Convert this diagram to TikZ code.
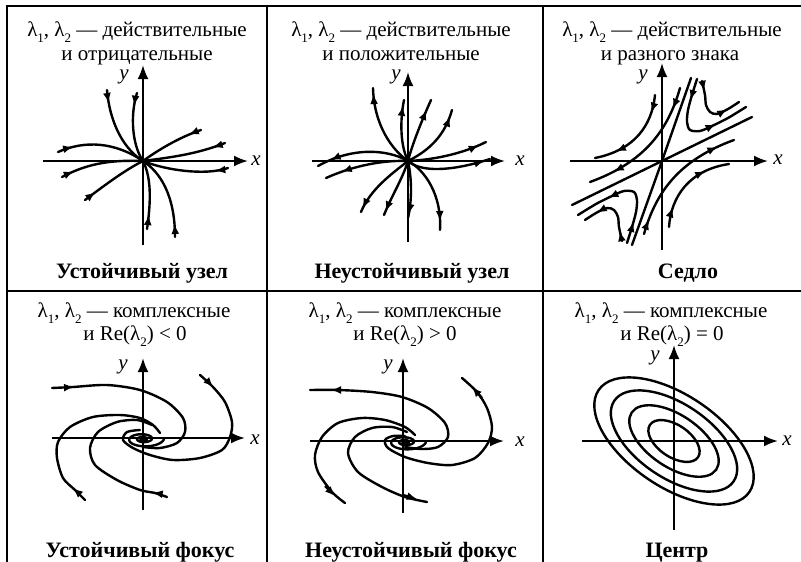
\documentclass[tikz,border=0pt]{standalone}
\usepackage{fontspec}
\setmainfont{Liberation Serif}
\usetikzlibrary{arrows.meta,decorations.markings}
\newcommand{\lam}[1]{λ\raisebox{-0.3em}{\fontsize{13}{13}\selectfont #1}}
\begin{document}
\begin{tikzpicture}[x=1pt,y=-1pt,
  >={Latex[length=10pt,width=8pt]},
  frame/.style={line width=1.8pt},
  axis/.style={line width=2.2pt,-{Latex[length=14pt,width=11pt]}},
  traj/.style={line width=2.4pt,line cap=round},
  tip/.style={line width=2.4pt,-{Latex[length=10pt,width=8pt]}},
  mk/.style={postaction={decorate},decoration={markings,mark=at position #1 with {\arrow{>}}}},
  mkk/.style 2 args={postaction={decorate},decoration={markings,mark=at position #1 with {\arrow{>}},mark=at position #2 with {\arrow{>}}}},
  ttl/.style={font=\fontsize{21}{24}\selectfont,anchor=base,inner sep=0pt},
  nm/.style={font=\fontsize{22}{24}\selectfont\bfseries,anchor=base,inner sep=0pt},
  axl/.style={font=\fontsize{21}{24}\selectfont\itshape,inner sep=0pt},
]
\useasboundingbox (0,0) rectangle (801,562);
\fill[white] (0,0) rectangle (801,562);

% ---------- frame ----------
\draw[frame] (801,6) -- (7,6) -- (7,562);
\draw[frame] (7,291) -- (801,291);
\draw[frame] (267,6) -- (267,562);
\draw[frame] (543,6) -- (543,562);

% ---------- titles ----------
\node[ttl] (t1a) at (137,36) {\lam1, \lam2 — действительные};
\node[ttl] (t1b) at (137,60) {и отрицательные};
\node[ttl] (t2a) at (401,36) {\lam1, \lam2 — действительные};
\node[ttl] (t2b) at (401,60) {и положительные};
\node[ttl] (t3a) at (672,36) {\lam1, \lam2 — действительные};
\node[ttl] (t3b) at (670,60) {и разного знака};
\node[ttl] (t4a) at (134,317) {\lam1, \lam2 — комплексные};
\node[ttl] (t4b) at (135,340) {и Re(\lam2) < 0};
\node[ttl] (t5a) at (405,317) {\lam1, \lam2 — комплексные};
\node[ttl] (t5b) at (405,340) {и Re(\lam2) > 0};
\node[ttl] (t6a) at (671,317) {\lam1, \lam2 — комплексные};
\node[ttl] (t6b) at (672,340) {и Re(\lam2) = 0};

\node[nm] (n1) at (142,278) {Устойчивый узел};
\node[nm] (n2) at (412,278) {Неустойчивый узел};
\node[nm] (n3) at (688,278) {Седло};
\node[nm] (n4) at (140,557) {Устойчивый фокус};
\node[nm] (n5) at (411,557) {Неустойчивый фокус};
\node[nm] (n6) at (677,557) {Центр};

% ---------- axes ----------
\draw[axis] (43,161) -- (248,161);
\draw[axis] (143,245) -- (143,65);
\node[axl] (x1) at (256,161) {x};
\node[axl] (y1) at (124,77) {y};

\draw[axis] (312,161) -- (505,161);
\draw[axis] (408,242) -- (408,72);
\node[axl] (x2) at (520,161) {x};
\node[axl] (y2) at (396,77) {y};

\draw[axis] (570,161) -- (768,161);
\draw[axis] (662,250) -- (662,63);
\node[axl] (x3) at (778,160) {x};
\node[axl] (y3) at (643,77) {y};

\draw[axis] (52,438) -- (245,438);
\draw[axis] (143,510) -- (143,358);
\node[axl] (x4) at (255,440) {x};
\node[axl] (y4) at (123,367) {y};

\draw[axis] (310,441) -- (504,441);
\draw[axis] (403,513) -- (403,358);
\node[axl] (x5) at (520,442) {x};
\node[axl] (y5) at (388,367) {y};

\draw[axis] (582,441) -- (778,441);
\draw[axis] (674,530) -- (674,345);
\node[axl] (x6) at (787,441) {x};
\node[axl] (y6) at (655,358) {y};

% ---------- cell 1: stable node ----------
\coordinate (O1) at (143,161);
\draw[traj,mk={13pt}] (107,90) .. controls (110,125) and (125,150) .. (O1);
\draw[traj,mk={13pt}] (137,93) .. controls (130,115) and (132,145) .. (O1);
\draw[traj,mk={13pt}] (201,130) .. controls (180,137) and (158,150) .. (O1);
\draw[traj,mk={13pt}] (225,143) .. controls (195,155) and (165,158) .. (O1);
\draw[traj,mk={13pt}] (228,168) .. controls (205,176) and (165,170) .. (O1);
\draw[traj,mk={13pt}] (175,237) .. controls (175,195) and (160,172) .. (O1);
\draw[traj,mk={14pt}] (147,229) .. controls (152,195) and (150,175) .. (O1);
\draw[traj,mk={16pt}] (58,152) .. controls (85,140) and (115,142) .. (O1);
\draw[traj,mk={13pt}] (62,177) .. controls (90,162) and (115,160) .. (O1);
\draw[traj,mk={13pt}] (85,200) .. controls (105,185) and (125,170) .. (O1);

% ---------- cell 2: unstable node ----------
\coordinate (O2) at (408,161);
\draw[traj,mk={-6pt}] (O2) .. controls (392,150) and (374,125) .. (373,88);
\draw[traj,mk={-6pt}] (O2) .. controls (400,145) and (400,120) .. (404,100);
\draw[traj,mk={-11pt}] (O2) .. controls (412,145) and (422,120) .. (431,100);
\draw[traj,mk={-7pt}] (O2) .. controls (430,150) and (445,135) .. (452,110);
\draw[traj,mk={-8pt}] (O2) .. controls (430,160) and (460,155) .. (486,142);
\draw[traj,mk={-6pt}] (O2) .. controls (420,172) and (450,172) .. (490,159);
\draw[traj,mk={-14pt}] (O2) .. controls (385,148) and (350,148) .. (318,166);
\draw[traj,mk={-17pt}] (O2) .. controls (385,160) and (355,165) .. (326,178);
\draw[traj,mk={-4pt}] (O2) .. controls (390,175) and (370,190) .. (361,212);
\draw[traj,mk={-4pt}] (O2) .. controls (402,180) and (392,195) .. (384,215);
\draw[traj,mk={-4pt}] (O2) .. controls (412,180) and (412,200) .. (408,218);
\draw[traj,mk={-9pt}] (O2) .. controls (425,170) and (442,195) .. (440,230);

% ---------- cell 3: saddle ----------
\coordinate (O3) at (662,161);
\coordinate (s1a) at (572,205); \coordinate (s1b) at (752,117);
\coordinate (s2a) at (632,245); \coordinate (s2b) at (691,78);
\draw[traj] (s1a) -- (O3) -- (s1b);
\draw[traj] (s2a) -- (O3) -- (s2b);
\draw[traj,mkk={18pt}{-22pt}] (655,95) .. controls (652,125) and (635,150) .. (595,158);
\draw[traj,mkk={22pt}{-26pt}] (680,88) .. controls (668,130) and (645,162) .. (590,182);
\draw[traj,mkk={20pt}{-25pt}] (669,227) .. controls (671,197) and (689,170) .. (729,164);
\draw[traj,mkk={15pt}{-18pt}] (644,234) .. controls (656,192) and (679,160) .. (734,140);
\draw[traj,mkk={10pt}{-14pt}] plot[smooth] coordinates {(702,81) (705,95) (706,105) (710,112) (717,114) (728,109) (739,102)};
\draw[traj,mkk={22pt}{-35pt}] plot[smooth] coordinates {(697,79) (692,95) (688,110) (687,122) (690,130) (700,131) (712,126) (728,118) (746,107)};
\draw[traj,mkk={10pt}{-14pt}] plot[smooth] coordinates {(622,241) (619,227) (618,217) (614,210) (607,208) (596,213) (585,220)};
\draw[traj,mkk={22pt}{-35pt}] plot[smooth] coordinates {(627,243) (632,227) (636,212) (637,200) (634,192) (624,191) (612,196) (596,204) (578,215)};

% ---------- cell 4: stable focus ----------
\coordinate (O4) at (143,438);
\draw[traj] plot[domain=0:1000,samples=160,smooth,variable=\t] ({143+21*exp(-\t/420)*cos(\t)},{439+9*exp(-\t/420)*sin(\t)});
\draw[traj,mk={22pt}] plot[smooth] coordinates {(52,388) (73,387) (107,385) (140,390) (167,402) (183,418) (185,432) (177,443) (160,448) (143,447)};
\draw[traj,mk={18pt}] plot[smooth] coordinates {(200,375) (213,387) (225,402) (232,422) (230,437) (222,450) (200,458) (173,460) (150,455) (133,448) (123,440) (127,432) (140,430)};
\draw[traj,mk={17pt}] plot[smooth] coordinates {(85,500) (75,490) (63,478) (57,458) (58,442) (70,427) (93,417) (120,415) (140,418) (153,425) (160,433)};
\draw[traj,mk={15pt}] plot[smooth] coordinates {(167,497) (155,493) (140,490) (117,480) (95,465) (90,448) (98,432) (117,422) (137,420) (152,425)};

% ---------- cell 5: unstable focus ----------
\coordinate (O5) at (403,441);
\draw[traj] plot[domain=0:1000,samples=160,smooth,variable=\t] ({405+21*exp(-\t/420)*cos(\t)},{442+9*exp(-\t/420)*sin(\t)});
\draw[traj] plot[smooth] coordinates {(310,390) (338,390) (372,392) (402,397) (428,408) (445,423) (448,437) (438,447) (422,449) (405,447)};
\draw[traj] plot[smooth] coordinates {(462,378) (477,392) (487,408) (492,427) (488,443) (475,458) (452,465) (428,463) (405,457) (388,448) (385,440) (393,436) (405,436)};
\draw[traj] plot[smooth] coordinates {(345,503) (332,492) (318,472) (315,455) (322,437) (338,423) (362,418) (385,420) (405,427) (415,435)};
\draw[traj] plot[smooth] coordinates {(427,502) (405,497) (382,487) (358,472) (348,453) (355,437) (372,428) (392,427) (407,432)};
\coordinate (a5a) at (343,390); \coordinate (a5b) at (331,390);
\coordinate (b5a) at (482,398); \coordinate (b5b) at (472,387);
\coordinate (c5a) at (325,486); \coordinate (c5b) at (335,496);
\coordinate (d5a) at (403,495); \coordinate (d5b) at (417,499);
\draw[tip] (a5a) -- (a5b);
\draw[tip] (b5a) -- (b5b);
\draw[tip] (c5a) -- (c5b);
\draw[tip] (d5a) -- (d5b);

% ---------- cell 6: centre ----------
\coordinate (O6) at (674,441);
\foreach \ra/\rb in {91/46,72/37,51/26,29/16}
  \draw[traj,rotate around={-34:(O6)}] (O6) ellipse [x radius=\ra, y radius=\rb];
\end{tikzpicture}
\end{document}
